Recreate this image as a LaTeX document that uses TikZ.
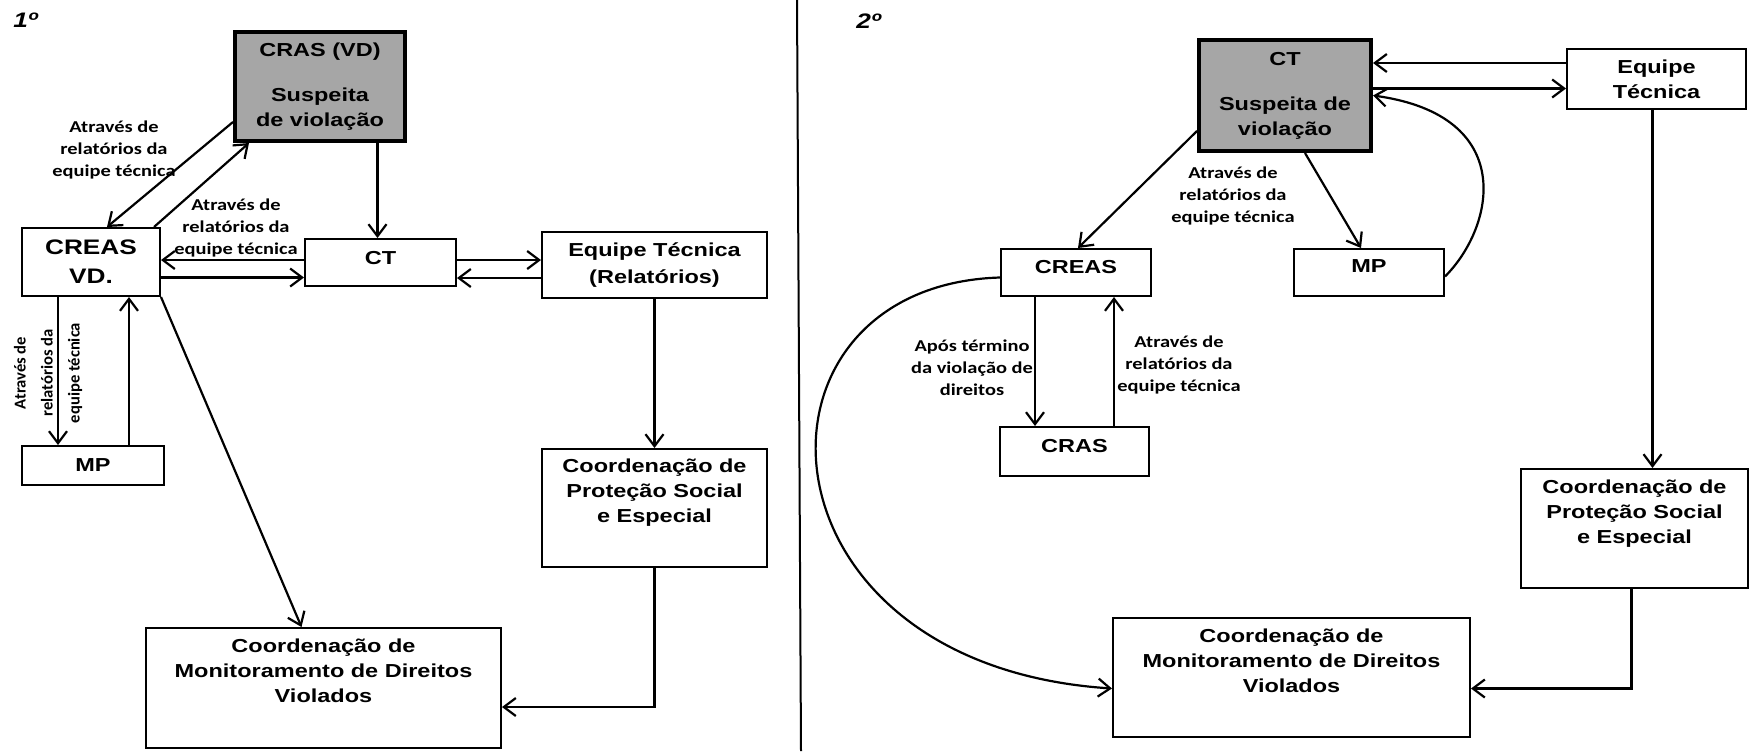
\documentclass[tikz,border=0pt]{standalone}
\usepackage{fontspec}
\setmainfont{Liberation Sans}
\newfontfamily\boxfont[FakeStretch=1.25]{Liberation Sans}
\newfontfamily\notefont[FakeStretch=1.23]{Carlito}
\newfontfamily\notefontr{Carlito}
\usetikzlibrary{arrows.meta,calc}
\definecolor{cinza}{RGB}{166,166,166}

\begin{document}
\begin{tikzpicture}[x=0.5pt,y=-0.5pt]
\tikzstyle{caixa}=[draw,line width=1pt,align=center,inner sep=2pt,font=\boxfont\bfseries\fontsize{9.4}{12.5}\selectfont]
\tikzstyle{destaque}=[caixa,fill=cinza,line width=2.2pt]
\tikzstyle{seta}=[line width=1.1pt,-{Straight Barb[length=6pt,width=9pt]}]
\tikzstyle{nota}=[align=center,inner sep=0pt,font=\notefont\bfseries\fontsize{8.3}{11}\selectfont]
\tikzstyle{titulo}=[anchor=base west,inner sep=0pt,font=\boxfont\bfseries\itshape\fontsize{10.5}{12}\selectfont]
\useasboundingbox (0,0) rectangle (1752,751);

% Divisao
\draw[line width=1pt] (797,0) -- (801,751);

% Painel 1
\node[titulo] (num1) at (13,27) {1º};
\node[destaque,minimum width=84.8pt,minimum height=54.3pt] (crasA) at (320,86.5) {CRAS (VD)\\[10pt]Suspeita\\de violação};
\node[caixa,minimum width=69pt,minimum height=34pt,font=\boxfont\bfseries\fontsize{10.5}{14.5}\selectfont] (creasA) at (91,262) {CREAS\\VD.};
\node[caixa,minimum width=75.5pt,minimum height=23.5pt,text depth=4.5pt] (ctA) at (380.5,262.5) {CT};
\node[caixa,minimum width=112.5pt,minimum height=33pt] (equipeA) at (654.5,265) {Equipe Técnica\\[1pt](Relatórios)};
\node[caixa,minimum width=71pt,minimum height=19.5pt] (mpA) at (93,465.5) {MP};
\node[caixa,minimum width=112.5pt,minimum height=59pt,text depth=17pt] (protA) at (654.5,508) {Coordenação de\\Proteção Social\\e Especial};
\node[caixa,minimum width=177.5pt,minimum height=60pt,text depth=17pt] (monitA) at (323.5,688) {Coordenação de\\Monitoramento de Direitos\\Violados};

\draw[seta] ($(crasA.south west)+(0,-21)$) -- ($(creasA.north west)+(86,0)$);
\draw[seta] ($(creasA.north east)+(-7,0)$) -- ($(crasA.south west)+(16,0)$);
\node[nota] (notaA1) at (114,150) {Através de\\relatórios da\\equipe técnica};
\node[nota] (notaA2) at (236,228) {Através de\\relatórios da\\equipe técnica};
\draw[seta] ([xshift=-1.5pt]crasA.south -| ctA.north) -- ([xshift=-1.5pt]ctA.north);
\draw[seta] ([yshift=1.25pt]ctA.west) -- ([yshift=1.25pt]ctA.west -| creasA.east);
\draw[seta] ([yshift=-7.5pt]ctA.west -| creasA.east) -- ([yshift=-7.5pt]ctA.west);
\draw[seta] ([yshift=1.25pt]ctA.east) -- ([yshift=1.25pt]ctA.east -| equipeA.west);
\draw[seta] ([yshift=-7.75pt]ctA.east -| equipeA.west) -- ([yshift=-7.75pt]ctA.east);
\draw[seta] ([xshift=-16.5pt]creasA.south) -- ([xshift=-16.5pt]creasA.south |- mpA.north);
\draw[seta] ([xshift=19pt]creasA.south |- mpA.north) -- ([xshift=19pt]creasA.south);
\node[nota,rotate=90,font=\notefontr\bfseries\fontsize{8.3}{13.5}\selectfont] (notaA3) at (48,373) {Através de\\relatórios da\\equipe técnica};
\draw[seta] (creasA.south east) -- ($(monitA.north)+(-22,0)$);
\draw[seta] (equipeA.south) -- (protA.north);
\draw[seta] (protA.south) |- ([yshift=-9.5pt]monitA.east);

% Painel 2
\node[titulo] (num2) at (856,28) {2º};
\node[destaque,minimum width=85.8pt,minimum height=55.3pt] (ctB) at (1285,95.5) {CT\\[10pt]Suspeita de\\violação};
\node[caixa,minimum width=89.5pt,minimum height=30pt] (equipeB) at (1656.5,79) {Equipe\\Técnica};
\node[caixa,minimum width=75pt,minimum height=23.5pt,text depth=6pt] (creasB) at (1076,272.5) {CREAS};
\node[caixa,minimum width=75pt,minimum height=23.5pt,text depth=6pt] (mpB) at (1369,272.5) {MP};
\node[caixa,minimum width=74.5pt,minimum height=24.5pt,text depth=6pt] (crasB) at (1074.5,451.5) {CRAS};
\node[caixa,minimum width=113.5pt,minimum height=59.5pt,text depth=17pt] (protB) at (1634.5,528.5) {Coordenação de\\Proteção Social\\e Especial};
\node[caixa,minimum width=178.5pt,minimum height=59.5pt,text depth=17pt] (monitB) at (1291.5,677.5) {Coordenação de\\Monitoramento de Direitos\\Violados};

\draw[seta] ([yshift=16.25pt]ctB.east -| equipeB.west) -- ([yshift=16.25pt]ctB.east);
\draw[seta] ([yshift=3.5pt]ctB.east) -- ([yshift=3.5pt]ctB.east -| equipeB.west);
\draw[seta] ([yshift=-2pt]mpB.east) .. controls +(50,-50) and +(145,20) .. (ctB.east);
\draw[seta] ($(ctB.south west)+(0,-22)$) -- ($(creasB.north)+(2,0)$);
\draw[seta] ($(ctB.south)+(20,0)$) -- ($(mpB.north)+(-8,0)$);
\node[nota] (notaB1) at (1233,196) {Através de\\relatórios da\\equipe técnica};
\draw[seta] ([xshift=-20.5pt]creasB.south) -- ([xshift=-20.5pt]creasB.south |- crasB.north);
\draw[seta] ([xshift=19pt]creasB.south |- crasB.north) -- ([xshift=19pt]creasB.south);
\node[nota] (notaB2) at (972,368) {Após término\\da violação de\\direitos};
\node[nota] (notaB3) at (1179,365) {Através de\\relatórios da\\equipe técnica};
\draw[seta] ([yshift=-2.5pt]creasB.west) .. controls +(-268,8) and +(-366,-24) .. ([yshift=-5.5pt]monitB.west);
\draw[seta] ([xshift=-1.5pt]protB.south) |- ([yshift=-5.5pt]monitB.east);
\draw[seta] ([xshift=-2pt]equipeB.south) -- ([xshift=-2pt]equipeB.south |- protB.north);

\end{tikzpicture}
\end{document}
